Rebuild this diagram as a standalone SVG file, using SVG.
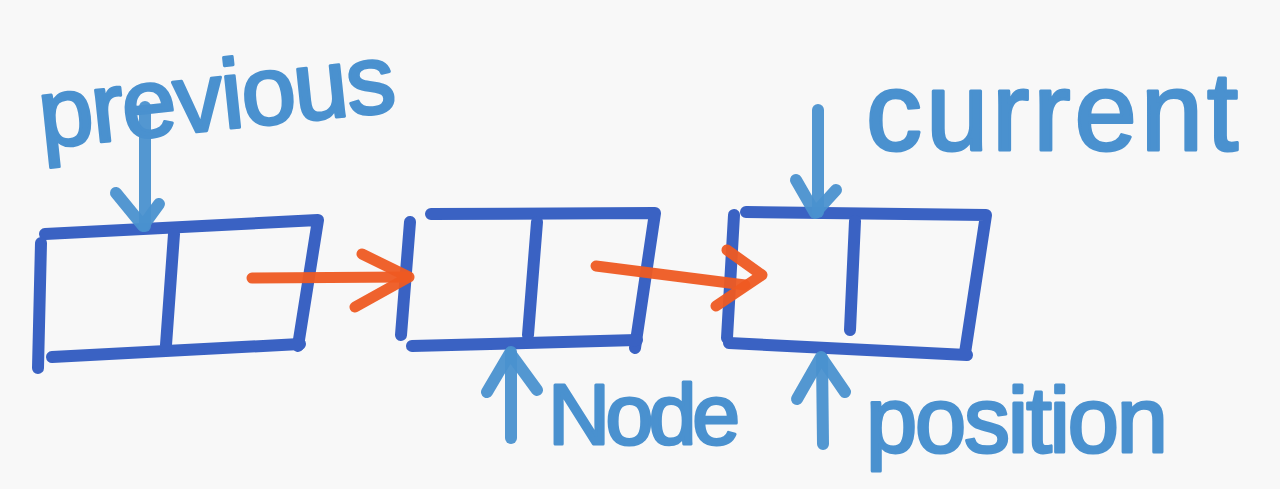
<svg xmlns="http://www.w3.org/2000/svg" width="1280" height="489" viewBox="0 0 1280 489">
<style>
.box{fill:none;stroke:#3a62c3;stroke-width:12;stroke-linecap:round;stroke-linejoin:round}
.ptr{fill:none;stroke:#4a91cf;stroke-width:12;stroke-linecap:round;stroke-linejoin:round;opacity:0.95}
.nxt{fill:none;stroke:#ee5a22;stroke-width:11;stroke-linecap:round;stroke-linejoin:round;opacity:0.95}
.lbl{font-family:"Liberation Sans",Arial,sans-serif;fill:#4a91cf;stroke:#4a91cf;stroke-width:3;stroke-linejoin:round}
</style>
<rect width="1280" height="489" fill="#f8f8f8"/>
<g id="node1">
<path class="box" d="M45,234 L318,220 L298,346"/>
<path class="box" d="M41,243 L38,368"/>
<path class="box" d="M52,357 L300,344"/>
<path class="box" d="M174,234 L166,345"/>
</g>
<g id="node2">
<path class="box" d="M431,214 L655,213 L635,348"/>
<path class="box" d="M410,222 L401,335"/>
<path class="box" d="M412,346 L637,340"/>
<path class="box" d="M537,222 L528,335"/>
</g>
<g id="node3">
<path class="box" d="M746,212 L986,215 L965,353"/>
<path class="box" d="M734,215 L727,338"/>
<path class="box" d="M729,343 L967,355"/>
<path class="box" d="M855,221 L850,330"/>
</g>
<g id="connectors">
<path class="nxt" d="M252,278 L406,277"/>
<path class="nxt" d="M362,254 L409,277 L355,307"/>
<path class="nxt" d="M596,266 L745,285"/>
<path class="nxt" d="M727,250 L762,275 L716,306"/>
<path class="ptr" d="M145,107 L145,226"/>
<path class="ptr" d="M116,193 L143,226 L159,204"/>
<path class="ptr" d="M818,110 L818,212"/>
<path class="ptr" d="M796,180 L815,213 L836,190"/>
<path class="ptr" d="M511,438 L511,352"/>
<path class="ptr" d="M487,392 L510,353 L537,390"/>
<path class="ptr" d="M823,444 L822,358"/>
<path class="ptr" d="M797,399 L821,357 L845,392"/>
</g>
<g id="labels">
<text class="lbl" x="42" y="148" font-size="98" textLength="358" transform="rotate(-6 42 148)">previous</text>
<text class="lbl" x="866" y="150" font-size="112" textLength="372">current</text>
<text class="lbl" x="548" y="444" font-size="86" textLength="192">Node</text>
<text class="lbl" x="866" y="452" font-size="92" textLength="302">position</text>
</g>
</svg>
